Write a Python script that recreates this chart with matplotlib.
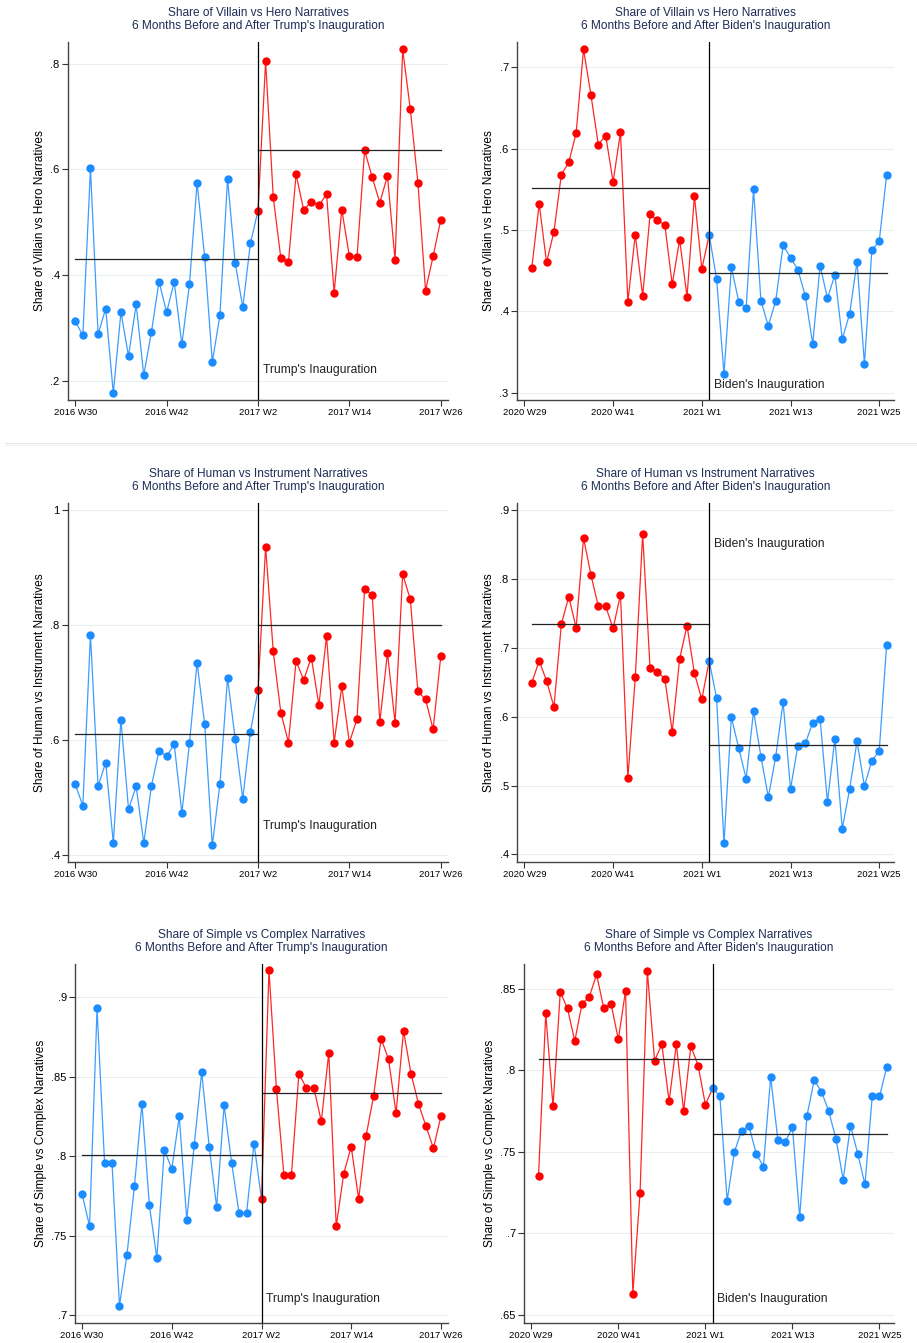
import numpy as np
import matplotlib
matplotlib.use("Agg")
import matplotlib.pyplot as plt
from matplotlib.lines import Line2D

plt.rcParams['font.family'] = ['Liberation Sans', 'DejaVu Sans']

# week labels (Stata weekly axis, every 12 weeks)
trump_ticks = ["2016 W30", "2016 W42", "2017 W2", "2017 W14", "2017 W26"]
biden_ticks = ["2020 W29", "2020 W41", "2021 W1", "2021 W13", "2021 W25"]

# --- Villain vs Hero ---
vh_trump_pre = [0.313, 0.286, 0.602, 0.288, 0.337, 0.177, 0.330, 0.247, 0.345, 0.211,
                0.292, 0.388, 0.330, 0.387, 0.269, 0.383, 0.575, 0.434, 0.236, 0.324,
                0.582, 0.424, 0.339, 0.460]
vh_trump_post = [0.522, 0.805, 0.548, 0.432, 0.425, 0.591, 0.523, 0.539, 0.532, 0.553,
                 0.367, 0.524, 0.436, 0.434, 0.636, 0.585, 0.537, 0.588, 0.428, 0.827,
                 0.714, 0.575, 0.371, 0.436, 0.505]
vh_trump_means = [0.431, 0.636]

vh_biden_pre = [0.453, 0.532, 0.460, 0.498, 0.568, 0.583, 0.619, 0.722, 0.666, 0.605,
                0.616, 0.559, 0.620, 0.412, 0.494, 0.419, 0.519, 0.512, 0.506, 0.433,
                0.488, 0.418, 0.542, 0.452]
vh_biden_post = [0.494, 0.440, 0.323, 0.454, 0.412, 0.404, 0.550, 0.413, 0.382, 0.413,
                 0.481, 0.466, 0.451, 0.419, 0.360, 0.456, 0.416, 0.445, 0.366, 0.397,
                 0.461, 0.335, 0.475, 0.486, 0.567]
vh_biden_means = [0.552, 0.447]

# --- Human vs Instrument ---
hi_trump_pre = [0.522, 0.485, 0.783, 0.519, 0.560, 0.420, 0.635, 0.479, 0.519, 0.420,
                0.519, 0.581, 0.571, 0.592, 0.472, 0.594, 0.734, 0.627, 0.416, 0.523,
                0.708, 0.602, 0.497, 0.613]
hi_trump_post = [0.686, 0.936, 0.754, 0.647, 0.595, 0.737, 0.704, 0.743, 0.660, 0.781,
                 0.595, 0.693, 0.595, 0.636, 0.862, 0.852, 0.631, 0.751, 0.629, 0.888,
                 0.844, 0.684, 0.670, 0.618, 0.745]
hi_trump_means = [0.610, 0.800]

hi_biden_pre = [0.649, 0.681, 0.652, 0.614, 0.734, 0.774, 0.729, 0.859, 0.806, 0.760,
                0.760, 0.728, 0.777, 0.511, 0.657, 0.865, 0.670, 0.665, 0.655, 0.578,
                0.684, 0.732, 0.663, 0.625]
hi_biden_post = [0.681, 0.627, 0.416, 0.599, 0.554, 0.510, 0.608, 0.542, 0.483, 0.542,
                 0.621, 0.495, 0.558, 0.561, 0.591, 0.597, 0.476, 0.568, 0.437, 0.495,
                 0.564, 0.499, 0.536, 0.550, 0.704]
hi_biden_means = [0.735, 0.559]

# --- Simple vs Complex ---
sc_trump_pre = [0.776, 0.756, 0.893, 0.796, 0.796, 0.706, 0.738, 0.781, 0.833, 0.769,
                0.736, 0.804, 0.792, 0.825, 0.760, 0.807, 0.853, 0.806, 0.768, 0.832,
                0.796, 0.764, 0.764, 0.808]
sc_trump_post = [0.773, 0.917, 0.842, 0.788, 0.788, 0.852, 0.843, 0.843, 0.822, 0.865,
                 0.756, 0.789, 0.806, 0.773, 0.813, 0.838, 0.874, 0.861, 0.827, 0.879,
                 0.852, 0.833, 0.819, 0.805, 0.825]
sc_trump_means = [0.8005, 0.840]

sc_biden_pre = [0.735, 0.835, 0.778, 0.848, 0.838, 0.818, 0.841, 0.845, 0.859, 0.838,
                0.841, 0.819, 0.849, 0.663, 0.725, 0.861, 0.806, 0.816, 0.781, 0.816,
                0.775, 0.815, 0.803, 0.779]
sc_biden_post = [0.789, 0.784, 0.720, 0.750, 0.763, 0.766, 0.749, 0.741, 0.796, 0.757,
                 0.756, 0.765, 0.710, 0.772, 0.794, 0.787, 0.775, 0.758, 0.733, 0.766,
                 0.749, 0.730, 0.784, 0.784, 0.802]
sc_biden_means = [0.807, 0.761]

BLUE = "#1a8cff"
RED = "#ff0000"
TITLE_COLOR = "#1f2d55"

W, H = 917, 1343
fig = plt.figure(figsize=(W / 100, H / 100), dpi=100)
fig.patch.set_facecolor("white")


def add_axes_px(left, top, right, bottom):
    return fig.add_axes([left / W, 1 - bottom / H, (right - left) / W, (bottom - top) / H])


def stata_label(v):
    s = f"{v:g}"
    return s[1:] if s.startswith("0.") else s


def panel(box, title, ylabel, pre, post, means, yticks, ylim, leader, note_y):
    ax = add_axes_px(*box)
    if leader == "Trump":
        x0, ticklabels, pre_col, post_col, xlim = 0, trump_ticks, BLUE, RED, (-0.95, 48.95)
    else:
        x0, ticklabels, pre_col, post_col, xlim = 1, biden_ticks, RED, BLUE, (-1.0, 50.0)
    cut = x0 + len(pre)
    x_pre = np.arange(x0, cut + 1)
    x_post = np.arange(cut, cut + len(post))
    y_pre = list(pre) + [post[0]]

    for t in yticks:
        ax.axhline(t, color="#e8eff0", lw=0.8, zorder=0)

    ax.plot(x_pre, y_pre, color=pre_col, lw=0.9, alpha=0.85, zorder=2)
    ax.plot(x_pre[:-1], pre, 'o', color=pre_col, ms=5, zorder=3)
    ax.plot(x_post, post, '-', color=post_col, lw=0.9, alpha=0.85, zorder=4)
    ax.plot(x_post, post, 'o', color=post_col, ms=5, zorder=5)

    ax.plot([x0, cut], [means[0], means[0]], color="#222222", lw=0.9, zorder=6)
    ax.plot([cut, x_post[-1]], [means[1], means[1]], color="#222222", lw=0.9, zorder=6)
    ax.axvline(cut, color="black", lw=0.9, zorder=6)
    ax.text(cut + 0.6, note_y, f"{leader}'s Inauguration", fontsize=8.7,
            color="#222222", va="center", ha="left")

    ax.set_xlim(*xlim)
    ax.set_ylim(*ylim)
    ax.set_xticks([0, 12, 24, 36, 48])
    ax.set_xticklabels(ticklabels, fontsize=6.8)
    ax.set_yticks(yticks)
    ax.set_yticklabels([stata_label(v) for v in yticks], fontsize=8)
    ax.tick_params(axis="both", direction="out", length=4, width=0.8, color="#333333", pad=2)
    ax.set_ylabel(ylabel, fontsize=8.6, labelpad=3)
    ax.set_title(title, fontsize=8.6, color=TITLE_COLOR, pad=9.5, linespacing=1.05)
    for side in ("top", "right"):
        ax.spines[side].set_visible(False)
    for side in ("left", "bottom"):
        ax.spines[side].set_color("#444444")
        ax.spines[side].set_linewidth(1.0)
    return ax


panel((68, 42, 448, 400),
      "Share of Villain vs Hero Narratives\n6 Months Before and After Trump's Inauguration",
      "Share of Villain vs Hero Narratives", vh_trump_pre, vh_trump_post, vh_trump_means,
      [0.2, 0.4, 0.6, 0.8], (0.164, 0.841), "Trump", 0.22)
panel((517, 42, 894, 400),
      "Share of Villain vs Hero Narratives\n6 Months Before and After Biden's Inauguration",
      "Share of Villain vs Hero Narratives", vh_biden_pre, vh_biden_post, vh_biden_means,
      [0.3, 0.4, 0.5, 0.6, 0.7], (0.291, 0.731), "Biden", 0.31)
panel((68, 503, 448, 862),
      "Share of Human vs Instrument Narratives\n6 Months Before and After Trump's Inauguration",
      "Share of Human vs Instrument Narratives", hi_trump_pre, hi_trump_post, hi_trump_means,
      [0.4, 0.6, 0.8, 1.0], (0.387, 1.012), "Trump", 0.449)
panel((517, 503, 894, 862),
      "Share of Human vs Instrument Narratives\n6 Months Before and After Biden's Inauguration",
      "Share of Human vs Instrument Narratives", hi_biden_pre, hi_biden_post, hi_biden_means,
      [0.4, 0.5, 0.6, 0.7, 0.8, 0.9], (0.389, 0.910), "Biden", 0.85)
panel((75, 964, 448, 1323),
      "Share of Simple vs Complex Narratives\n6 Months Before and After Trump's Inauguration",
      "Share of Simple vs Complex Narratives", sc_trump_pre, sc_trump_post, sc_trump_means,
      [0.7, 0.75, 0.8, 0.85, 0.9], (0.695, 0.921), "Trump", 0.71)
panel((524, 964, 894, 1323),
      "Share of Simple vs Complex Narratives\n6 Months Before and After Biden's Inauguration",
      "Share of Simple vs Complex Narratives", sc_biden_pre, sc_biden_post, sc_biden_means,
      [0.65, 0.7, 0.75, 0.8, 0.85], (0.645, 0.8653), "Biden", 0.66)

# faint separator under the first row
for yy, c in ((443, "#e2e7ea"), (444.5, "#edf2f6")):
    fig.add_artist(Line2D([5 / W, 1], [1 - yy / H, 1 - yy / H], color=c, lw=0.8))

fig.savefig("out.png", dpi=100, facecolor="white")
